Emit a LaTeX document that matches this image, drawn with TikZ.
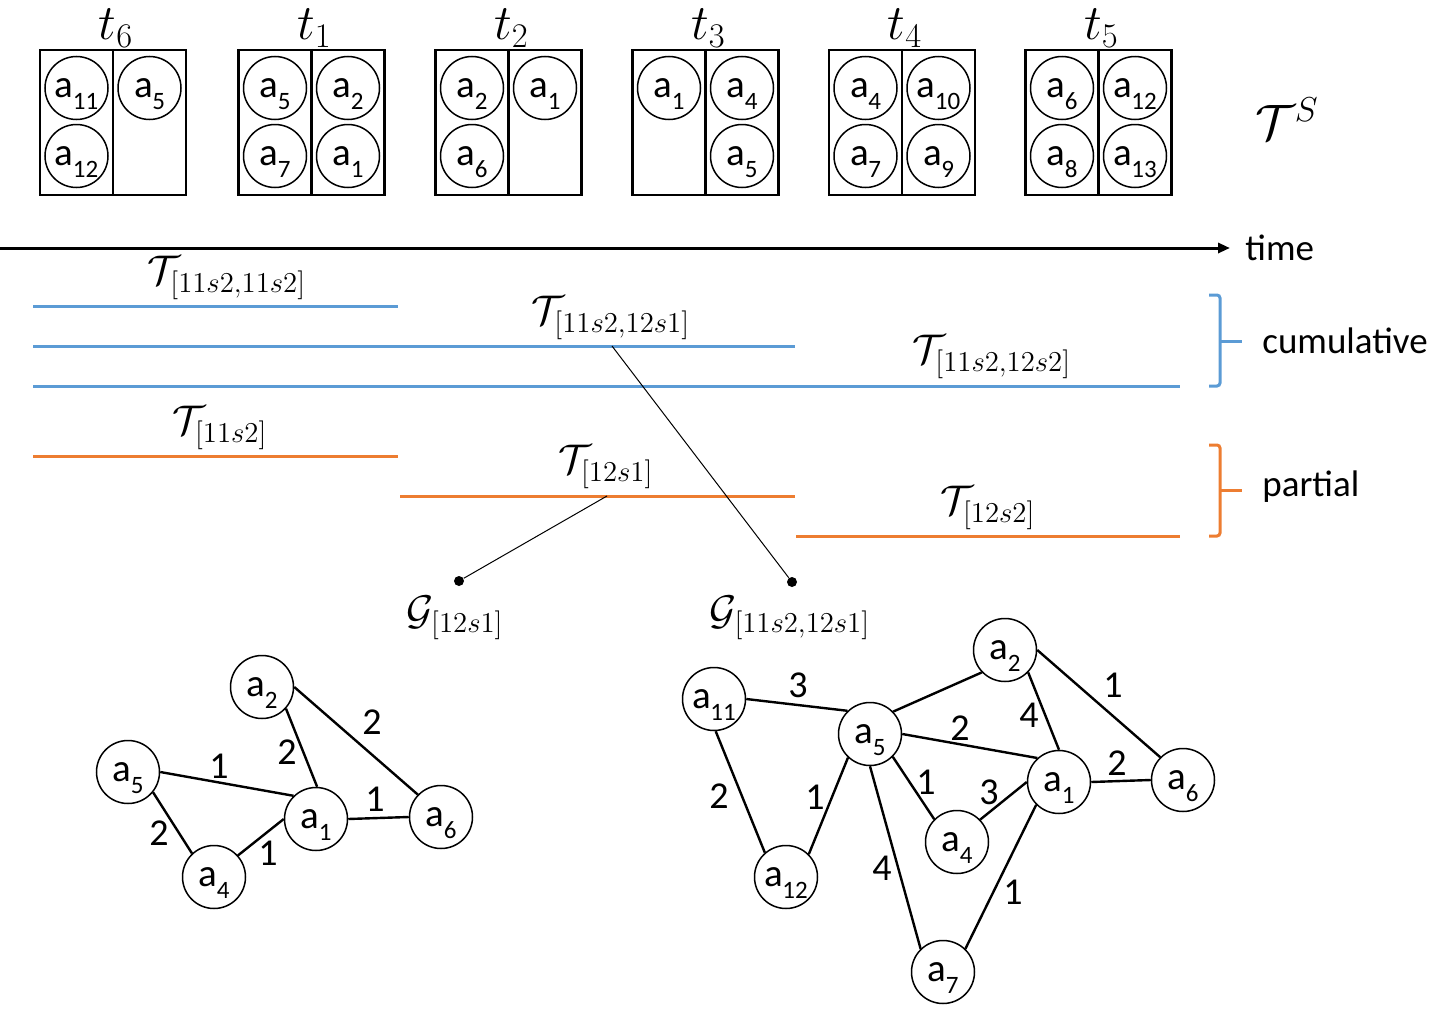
\documentclass[tikz,border=0pt]{standalone}
\usepackage{fontspec}
\setmainfont{Carlito}
\usetikzlibrary{arrows.meta}
\definecolor{cblue}{HTML}{5B9BD5}
\definecolor{corange}{HTML}{ED7D31}
\newcommand\av[1]{\raisebox{-1pt}{a\kern-0.2pt\smash{\raisebox{-0.65ex}{\fontsize{12.5}{13}\selectfont #1}}}}
\begin{document}
\begin{tikzpicture}[x=0.5pt,y=-0.5pt,
 ag/.style={circle,draw,line width=0.75pt,minimum size=31.5pt,inner sep=0pt,font=\fontsize{19.5}{22}\selectfont},
 tbox/.style={draw,line width=1.2pt,minimum width=73pt,minimum height=72.5pt,inner sep=0pt},
 mlab/.style={font=\fontsize{21.5}{24}\selectfont,inner sep=0pt},
 tlab/.style={font=\fontsize{23}{26}\selectfont,inner sep=0pt},
 elab/.style={font=\fontsize{19}{21}\selectfont,inner sep=0pt},
 wtxt/.style={font=\fontsize{18.5}{22}\selectfont,anchor=west,inner sep=0pt},
 gedge/.style={line width=1.2pt},
 cumline/.style={cblue,line width=1.5pt},
 partline/.style={corange,line width=1.5pt},
 thinline/.style={line width=0.5pt},
 gdot/.style={circle,fill,minimum size=5pt,inner sep=0pt},
 divider/.style={line width=1.2pt}]
\useasboundingbox (0,0) rectangle (1452,1017);

% ---- top boxes ----
\node[tbox] (B6) at (113,122.5) {};
\draw[divider] (B6.north) -- (B6.south);
\node[tlab] (L6) at (116,28) {$t_6$};
\node[ag] (B6a11) at (76.5,88) {\av{11}};
\node[ag] (B6a12) at (76.5,156) {\av{12}};
\node[ag] (B6a5) at (149.5,88) {\av{5}};

\node[tbox] (B1) at (311.5,122.5) {};
\draw[divider] (B1.north) -- (B1.south);
\node[tlab] (L1) at (314.5,28) {$t_1$};
\node[ag] (B1a5) at (275,88) {\av{5}};
\node[ag] (B1a7) at (275,156) {\av{7}};
\node[ag] (B1a2) at (348,88) {\av{2}};
\node[ag] (B1a1) at (348,156) {\av{1}};

\node[tbox] (B2) at (508.5,122.5) {};
\draw[divider] (B2.north) -- (B2.south);
\node[tlab] (L2) at (511.5,28) {$t_2$};
\node[ag] (B2a2) at (472,88) {\av{2}};
\node[ag] (B2a6) at (472,156) {\av{6}};
\node[ag] (B2a1) at (545,88) {\av{1}};

\node[tbox] (B3) at (705.5,122.5) {};
\draw[divider] (B3.north) -- (B3.south);
\node[tlab] (L3) at (708.5,28) {$t_3$};
\node[ag] (B3a1) at (669,88) {\av{1}};
\node[ag] (B3a4) at (742,88) {\av{4}};
\node[ag] (B3a5) at (742,156) {\av{5}};

\node[tbox] (B4) at (902,122.5) {};
\draw[divider] (B4.north) -- (B4.south);
\node[tlab] (L4) at (905,28) {$t_4$};
\node[ag] (B4a4) at (865.5,88) {\av{4}};
\node[ag] (B4a7) at (865.5,156) {\av{7}};
\node[ag] (B4a10) at (938.5,88) {\av{10}};
\node[ag] (B4a9) at (938.5,156) {\av{9}};

\node[tbox] (B5) at (1098.5,122.5) {};
\draw[divider] (B5.north) -- (B5.south);
\node[tlab] (L5) at (1101.5,28) {$t_5$};
\node[ag] (B5a6) at (1062,88) {\av{6}};
\node[ag] (B5a8) at (1062,156) {\av{8}};
\node[ag] (B5a12) at (1135,88) {\av{12}};
\node[ag] (B5a13) at (1135,156) {\av{13}};

\node[tlab] (TS) at (1287,119) {$\mathcal{T}^{S}$};

% ---- time axis ----
\coordinate (A0) at (0,248);
\coordinate (A1) at (1230,248);
\node[wtxt] (time) at (1245,248) {time};
\draw[line width=1.5pt,-{Triangle[length=6pt,width=5pt]}] (A0) -- (A1);

% ---- cumulative ----
\draw[cumline] (33,306) -- (398,306);
\draw[cumline] (33,346) -- (795,346);
\draw[cumline] (33,386) -- (1180,386);
\node[mlab] (C1) at (227,278) {$\mathcal{T}_{[11s2,11s2]}$};
\node[mlab] (C2) at (611,318) {$\mathcal{T}_{[11s2,12s1]}$};
\node[mlab] (C3) at (992,357) {$\mathcal{T}_{[11s2,12s2]}$};
\draw[cumline,rounded corners=1.5pt] (1209,295) -- (1220,295) -- (1220,386) -- (1209,386);
\draw[cumline] (1220,341) -- (1242,341);
\node[wtxt] (cumu) at (1262,341) {cumulative};

% ---- partial ----
\draw[partline] (33,456) -- (398,456);
\draw[partline] (400,496) -- (795,496);
\draw[partline] (796,536) -- (1180,536);
\node[mlab] (P1) at (220,428) {$\mathcal{T}_{[11s2]}$};
\node[mlab] (P2) at (606,467) {$\mathcal{T}_{[12s1]}$};
\node[mlab] (P3) at (988,508) {$\mathcal{T}_{[12s2]}$};
\draw[partline,rounded corners=1.5pt] (1209,445) -- (1220,445) -- (1220,536) -- (1209,536);
\draw[partline] (1220,490) -- (1242,490);
\node[wtxt] (part) at (1262,487) {partial};

% ---- pointers ----
\coordinate (cp1) at (612,346);
\coordinate (cp2) at (607,496);
\node[gdot] (D2) at (792,582) {};
\node[gdot] (D1) at (459,581) {};
\draw[thinline] (cp1) -- (D2);
\draw[thinline] (cp2) -- (D1);
\node[mlab] (G1) at (455,618) {$\mathcal{G}_{[12s1]}$};
\node[mlab] (G2) at (790,618) {$\mathcal{G}_{[11s2,12s1]}$};

% ---- left graph ----
\node[ag] (La2) at (262,687) {\av{2}};
\node[ag] (La5) at (128,772) {\av{5}};
\node[ag] (La1) at (316,819) {\av{1}};
\node[ag] (La6) at (441,817) {\av{6}};
\node[ag] (La4) at (214,877) {\av{4}};
\draw[gedge] (La2.-42) -- (La1.88);
\draw[gedge] (La2.0) -- (La6.136);
\draw[gedge] (La5.0) -- (La1.134);
\draw[gedge] (La5.-39) -- (La4.133);
\draw[gedge] (La4.42) -- (La1.180);
\draw[gedge] (La1.0) -- (La6.180);
\node[elab] at (219,766) {1};
\node[elab] at (287,752) {2};
\node[elab] at (372,722) {2};
\node[elab] at (375,799) {1};
\node[elab] at (159,833) {2};
\node[elab] at (268,853) {1};

% ---- right graph ----
\node[ag] (Ra11) at (714,699) {\av{11}};
\node[ag] (Ra5) at (870,734) {\av{5}};
\node[ag] (Ra2) at (1005,650) {\av{2}};
\node[ag] (Ra1) at (1059,782) {\av{1}};
\node[ag] (Ra6) at (1183,780) {\av{6}};
\node[ag] (Ra4) at (957,842) {\av{4}};
\node[ag] (Ra12) at (786,877) {\av{12}};
\node[ag] (Ra7) at (943,972) {\av{7}};
\draw[gedge] (Ra11.0) -- (Ra5.134);
\draw[gedge] (Ra11.-87) -- (Ra12.131);
\draw[gedge] (Ra12.45) -- (Ra5.-133);
\draw[gedge] (Ra5.44) -- (Ra2.-136);
\draw[gedge] (Ra5.0) -- (Ra1.132);
\draw[gedge] (Ra5.-45) -- (Ra4.135);
\draw[gedge] (Ra5.-90) -- (Ra7.134);
\draw[gedge] (Ra2.-44) -- (Ra1.90);
\draw[gedge] (Ra2.0) -- (Ra6.135);
\draw[gedge] (Ra1.0) -- (Ra6.180);
\draw[gedge] (Ra4.44) -- (Ra1.180);
\draw[gedge] (Ra1.-135) -- (Ra7.46);
\node[elab] at (798,685) {3};
\node[elab] at (719,796) {2};
\node[elab] at (815,797) {1};
\node[elab] at (1029,715) {4};
\node[elab] at (1113,685) {1};
\node[elab] at (960,728) {2};
\node[elab] at (926,782) {1};
\node[elab] at (989,792) {3};
\node[elab] at (1117,763) {2};
\node[elab] at (882,868) {4};
\node[elab] at (1013,892) {1};
\end{tikzpicture}
\end{document}
